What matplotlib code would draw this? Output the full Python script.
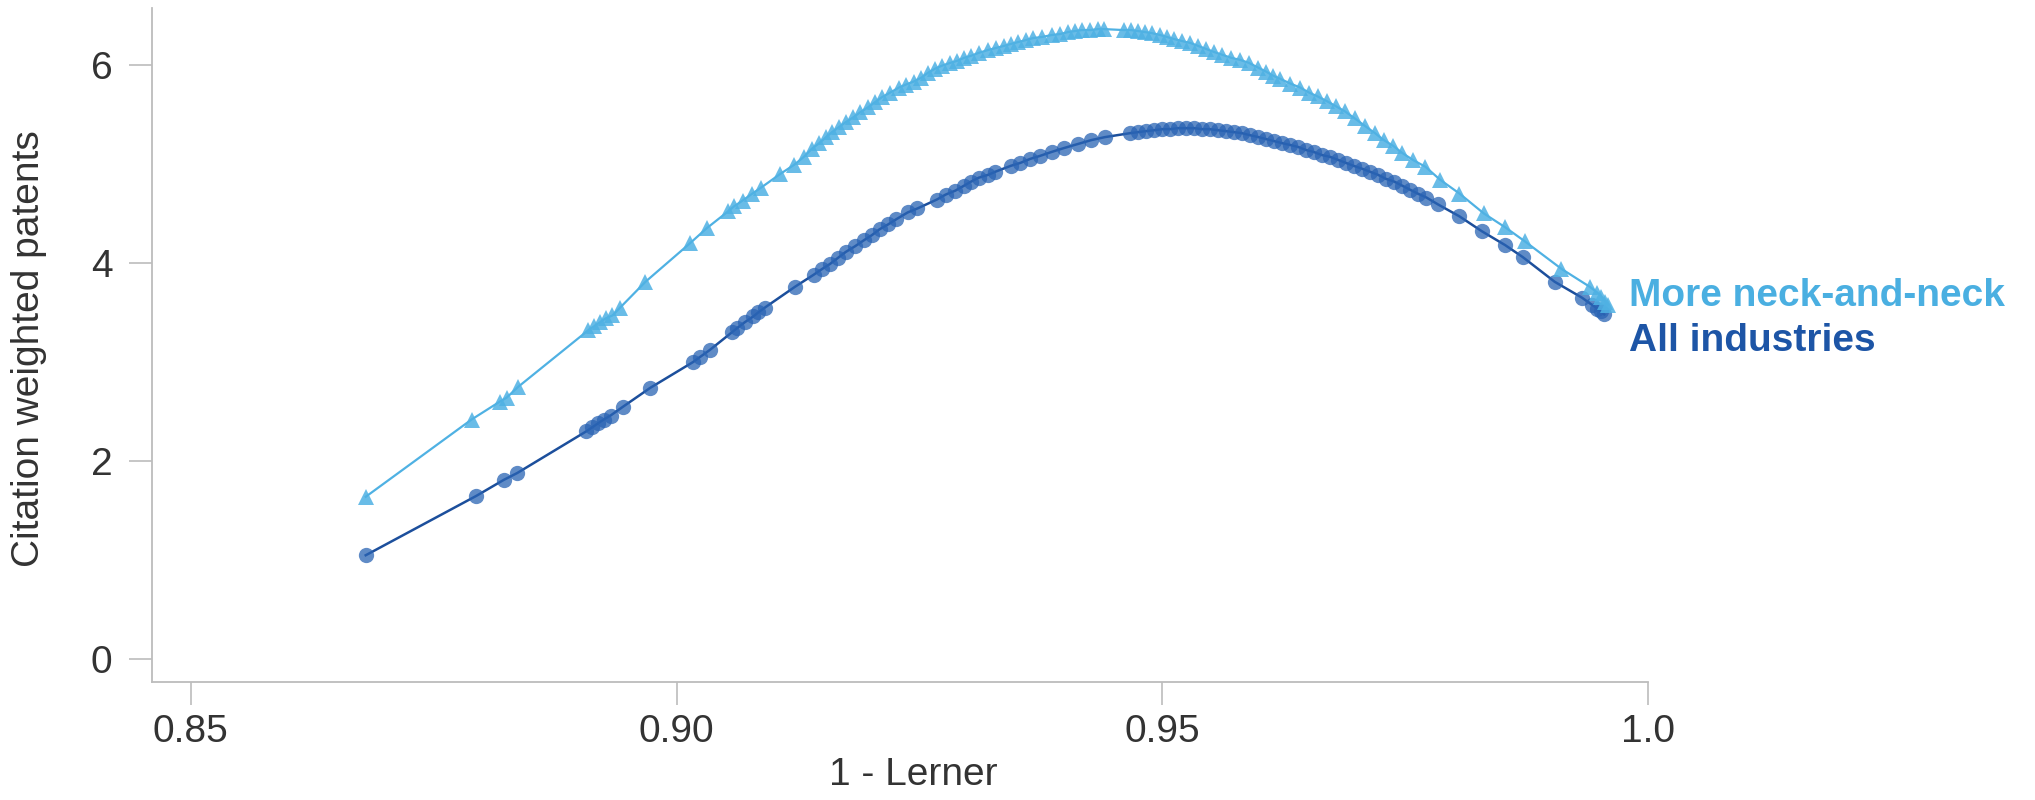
#!/usr/bin/env python3
"""
Citation weighted patents vs 1 - Lerner (inverted-U), two fitted series.
"""

import matplotlib
matplotlib.use("Agg")
import matplotlib.pyplot as plt

plt.rcParams['font.family'] = ['Liberation Sans', 'DejaVu Sans']

# ============================================================================
# DATA
# ============================================================================

all_x = [
    0.8680, 0.8794, 0.8822, 0.8836, 0.8907, 0.8913, 0.8919, 0.8925, 0.8932,
    0.8945, 0.8973, 0.9017, 0.9024, 0.9034, 0.9057, 0.9062, 0.9070, 0.9079,
    0.9084, 0.9091, 0.9122, 0.9141, 0.9150, 0.9158, 0.9166, 0.9174, 0.9184,
    0.9193, 0.9201, 0.9209, 0.9218, 0.9226, 0.9238, 0.9248, 0.9268, 0.9277,
    0.9287, 0.9296, 0.9303, 0.9311, 0.9321, 0.9328, 0.9344, 0.9354, 0.9364,
    0.9374, 0.9386, 0.9399, 0.9413, 0.9427, 0.9441, 0.9467, 0.9475, 0.9483,
    0.9492, 0.9500, 0.9508, 0.9516, 0.9524, 0.9533, 0.9541, 0.9549, 0.9557,
    0.9566, 0.9574, 0.9582, 0.9590, 0.9599, 0.9607, 0.9615, 0.9623, 0.9632,
    0.9640, 0.9648, 0.9656, 0.9664, 0.9673, 0.9681, 0.9689, 0.9697, 0.9706,
    0.9714, 0.9722, 0.9730, 0.9739, 0.9747, 0.9755, 0.9763, 0.9772, 0.9784,
    0.9806, 0.9829, 0.9853, 0.9871, 0.9904, 0.9932, 0.9942, 0.9948, 0.9952,
    0.9955,
]
all_y = [
    1.05, 1.65, 1.81, 1.88, 2.30, 2.34, 2.38, 2.42, 2.46,
    2.55, 2.74, 3.00, 3.05, 3.12, 3.30, 3.34, 3.40, 3.46,
    3.50, 3.55, 3.76, 3.88, 3.94, 3.99, 4.05, 4.11, 4.17,
    4.23, 4.28, 4.34, 4.39, 4.44, 4.51, 4.55, 4.64, 4.69,
    4.73, 4.78, 4.82, 4.86, 4.89, 4.92, 4.98, 5.01, 5.05,
    5.08, 5.12, 5.16, 5.20, 5.24, 5.27, 5.31, 5.32, 5.33,
    5.34, 5.35, 5.35, 5.36, 5.36, 5.36, 5.35, 5.35, 5.34,
    5.33, 5.32, 5.31, 5.29, 5.27, 5.25, 5.23, 5.21, 5.19,
    5.17, 5.14, 5.12, 5.09, 5.07, 5.04, 5.01, 4.98, 4.95,
    4.92, 4.89, 4.85, 4.82, 4.78, 4.74, 4.70, 4.66, 4.59,
    4.47, 4.32, 4.18, 4.06, 3.81, 3.65, 3.58, 3.54, 3.51,
    3.48,
]

neck_x = [
    0.8680, 0.8789, 0.8818, 0.8825, 0.8837, 0.8909, 0.8915, 0.8921, 0.8927,
    0.8934, 0.8942, 0.8968, 0.9014, 0.9031, 0.9053, 0.9059, 0.9068, 0.9078,
    0.9087, 0.9107, 0.9121, 0.9131, 0.9139, 0.9147, 0.9154, 0.9160, 0.9167,
    0.9174, 0.9182, 0.9189, 0.9197, 0.9204, 0.9211, 0.9220, 0.9229, 0.9236,
    0.9244, 0.9252, 0.9259, 0.9266, 0.9273, 0.9282, 0.9289, 0.9296, 0.9303,
    0.9311, 0.9321, 0.9329, 0.9337, 0.9344, 0.9352, 0.9360, 0.9367, 0.9376,
    0.9386, 0.9395, 0.9403, 0.9410, 0.9417, 0.9426, 0.9434, 0.9440, 0.9461,
    0.9468, 0.9475, 0.9482, 0.9489, 0.9498, 0.9505, 0.9512, 0.9520, 0.9529,
    0.9537, 0.9545, 0.9553, 0.9562, 0.9571, 0.9580, 0.9589, 0.9599, 0.9607,
    0.9614, 0.9621, 0.9632, 0.9642, 0.9651, 0.9660, 0.9670, 0.9679, 0.9688,
    0.9698, 0.9709, 0.9719, 0.9728, 0.9738, 0.9747, 0.9758, 0.9771, 0.9786,
    0.9806, 0.9831, 0.9853, 0.9873, 0.9911, 0.9940, 0.9948, 0.9952, 0.9956,
    0.9959,
]
neck_y = [
    1.64, 2.42, 2.60, 2.64, 2.75, 3.32, 3.36, 3.40, 3.44,
    3.47, 3.55, 3.81, 4.20, 4.35, 4.52, 4.57, 4.63, 4.70,
    4.76, 4.90, 4.99, 5.07, 5.15, 5.21, 5.27, 5.32, 5.37,
    5.42, 5.47, 5.52, 5.57, 5.62, 5.67, 5.72, 5.77, 5.80,
    5.83, 5.87, 5.92, 5.96, 5.99, 6.02, 6.04, 6.07, 6.09,
    6.12, 6.15, 6.17, 6.19, 6.21, 6.23, 6.25, 6.27, 6.28,
    6.30, 6.31, 6.33, 6.34, 6.35, 6.35, 6.36, 6.36, 6.35,
    6.35, 6.34, 6.33, 6.32, 6.30, 6.28, 6.26, 6.24, 6.22,
    6.19, 6.16, 6.13, 6.10, 6.07, 6.05, 6.02, 5.97, 5.93,
    5.89, 5.86, 5.81, 5.77, 5.72, 5.68, 5.63, 5.58, 5.53,
    5.46, 5.38, 5.31, 5.24, 5.18, 5.11, 5.04, 4.97, 4.84,
    4.70, 4.50, 4.36, 4.22, 3.94, 3.76, 3.70, 3.66, 3.61,
    3.58,
]

series_labels = ["More neck-and-neck", "All industries"]
x_ticks = [0.85, 0.90, 0.95, 1.0]
x_tick_labels = ["0.85", "0.90", "0.95", "1.0"]
y_ticks = [0, 2, 4, 6]

# ============================================================================
# PLOT
# ============================================================================

DARK = "#2a64b4"
DARK_LINE = "#1c4f9c"
LIGHT = "#4fb1e3"
AXIS_GREY = "#bcbcbc"
TEXT_GREY = "#333333"

fig = plt.figure(figsize=(20.35, 8), dpi=100)
ax = fig.add_axes([0.0747, 0.1479, 0.7351, 0.8421])

# all industries (circles)
ax.plot(all_x, all_y, color=DARK_LINE, linewidth=1.8, zorder=2)
ax.plot(all_x, all_y, linestyle='none', marker='o', markersize=11,
        markerfacecolor=DARK, markeredgewidth=0, alpha=0.75, zorder=3)

# more neck-and-neck (triangles)
ax.plot(neck_x, neck_y, color=LIGHT, linewidth=1.6, zorder=4)
ax.plot(neck_x, neck_y, linestyle='none', marker='^', markersize=11,
        markerfacecolor=LIGHT, markeredgewidth=0, alpha=0.85, zorder=5)

# direct labels at the right end of the curves
ax.text(0.9981, 3.57, series_labels[0], color="#4aafe1", fontsize=28,
        fontweight='bold', ha='left', va='baseline', clip_on=False)
ax.text(0.9981, 3.11, series_labels[1], color="#1d55a6", fontsize=28,
        fontweight='bold', ha='left', va='baseline', clip_on=False)

ax.set_xlim(0.846, 1.0)
ax.set_ylim(-0.226, 6.573)
ax.set_xticks(x_ticks)
ax.set_xticklabels(x_tick_labels)
ax.set_yticks(y_ticks)

for side in ['top', 'right']:
    ax.spines[side].set_visible(False)
for side in ['left', 'bottom']:
    ax.spines[side].set_color(AXIS_GREY)
    ax.spines[side].set_linewidth(1.3)

ax.tick_params(axis='both', colors=AXIS_GREY, labelcolor=TEXT_GREY,
               length=16.5, width=1.2, labelsize=28)
ax.tick_params(axis='x', pad=7)
ax.tick_params(axis='y', pad=12)

ax.set_xlabel("1 - Lerner", fontsize=28, color=TEXT_GREY)
ax.xaxis.set_label_coords(0.5087, -0.1118)
ax.set_ylabel("Citation weighted patents", fontsize=28, color=TEXT_GREY)
ax.yaxis.set_label_coords(-0.0702, 0.494)

fig.savefig("out.png", dpi=100)
